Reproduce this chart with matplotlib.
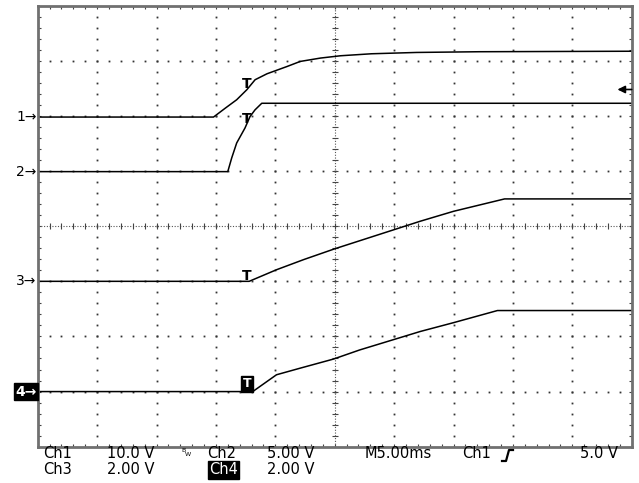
import numpy as np
import matplotlib.pyplot as plt
import matplotlib.transforms as mtransforms
from matplotlib.lines import Line2D

# Pantalla de osciloscopio: 10 div x 8 div, 5 ms/div
# tiempos en ms desde el borde izquierdo, tensiones en V
t_ch1 = [0, 14.8, 15.8, 16.75, 17.6, 18.3, 19.3, 21.0, 22.1, 23.8, 25.5, 28.1, 31.9, 37.2, 50]
v_ch1 = [0, 0, 1.63, 3.14, 4.95, 6.77, 7.85, 9.18, 10.09, 10.7, 11.12, 11.48, 11.72, 11.85, 11.94]

t_ch2 = [0, 16.0, 16.33, 16.75, 17.45, 17.87, 18.29, 18.86, 50]
v_ch2 = [0, 0, 1.24, 2.6, 3.96, 4.99, 5.6, 6.2, 6.2]

t_ch3 = [0, 17.8, 20.1, 22.4, 25.0, 32.2, 35.0, 39.3, 50]
v_ch3 = [0, 0, 0.42, 0.79, 1.18, 2.18, 2.54, 2.99, 2.99]

t_ch4 = [0, 18.1, 20.1, 22.1, 24.9, 27.1, 32.2, 35.0, 38.7, 50]
v_ch4 = [0, 0, 0.61, 0.85, 1.18, 1.51, 2.18, 2.5, 2.94, 2.94]

canales = ['1', '2', '3', '4']
volts_div = [10.0, 5.0, 2.0, 2.0]
offsets = [1.98, 0.99, -1.0, -3.0]   # posicion de tierra en divisiones
ms_div = 5.0
trig_t = 17.6
trig_level = 5.0

fig = plt.figure(figsize=(6.39, 4.83), dpi=100)
ax = fig.add_axes([37.7 / 639, 1 - 446.7 / 483, 594 / 639, 441 / 483])
ax.set_xlim(0, 10 * ms_div)
ax.set_ylim(-4, 4)
ax.set_xticks([])
ax.set_yticks([])
for s in ax.spines.values():
    s.set_color('#707070')
    s.set_linewidth(2)

# grilla punteada
minor_x = np.arange(0, 50.01, ms_div / 5)
minor_y = np.arange(-4, 4.01, 0.2)
dot = dict(ls='none', marker='s', ms=1.3, mew=0, color='#333333')
for gx in np.arange(ms_div, 50, ms_div):
    if gx == 25:
        continue
    ax.plot(np.full_like(minor_y, gx), minor_y, **dot)
for gy in range(-3, 4):
    if gy == 0:
        continue
    ax.plot(minor_x, np.full_like(minor_x, gy), **dot)

# ejes centrales con marcas
ax.axvline(25, ls=(0, (1, 1.5)), lw=0.8, color='#555555')
ax.axhline(0, ls=(0, (1, 1.5)), lw=0.8, color='#555555')
ax.plot(np.full_like(minor_y, 25), minor_y, ls='none', marker='_', ms=4.5, mew=0.8, color='#444444')
ax.plot(minor_x, np.zeros_like(minor_x), ls='none', marker='|', ms=4.5, mew=0.8, color='#444444')

# marcas en el borde
ax.plot(minor_x, np.full_like(minor_x, 4), ls='none', marker='|', ms=4, mew=0.8, color='#444444')
ax.plot(minor_x, np.full_like(minor_x, -4), ls='none', marker='|', ms=4, mew=0.8, color='#444444')
ax.plot(np.full_like(minor_y, 0), minor_y, ls='none', marker='_', ms=4, mew=0.8, color='#444444')
ax.plot(np.full_like(minor_y, 50), minor_y, ls='none', marker='_', ms=4, mew=0.8, color='#444444')

# trazas
datos = [(t_ch1, v_ch1), (t_ch2, v_ch2), (t_ch3, v_ch3), (t_ch4, v_ch4)]
blend = mtransforms.blended_transform_factory(ax.transAxes, ax.transData)
for i, (t, v) in enumerate(datos):
    y = offsets[i] + np.array(v) / volts_div[i]
    ax.plot(t, y, color='black', lw=1.1, solid_joinstyle='round')

    # marca de disparo "T"
    yt = offsets[i] + np.interp(trig_t, t, v) / volts_div[i]
    if i == 3:
        ax.text(trig_t, yt + 0.02, 'T', ha='center', va='bottom', fontsize=9,
                fontweight='bold', color='white',
                bbox=dict(boxstyle='square,pad=0.15', fc='black', ec='black'))
    else:
        ax.text(trig_t, yt - 0.03, 'T', ha='center', va='bottom', fontsize=10,
                fontweight='bold', color='black')

    # indicador de tierra a la izquierda
    if i == 3:
        ax.text(-0.002, offsets[i], canales[i] + '\u2192', transform=blend, ha='right',
                va='center', fontsize=10, color='white', fontweight='bold', clip_on=False,
                bbox=dict(boxstyle='square,pad=0.1', fc='black', ec='black'))
    else:
        ax.text(-0.002, offsets[i], canales[i] + '\u2192', transform=blend, ha='right',
                va='center', fontsize=10, color='black', clip_on=False)

# nivel de disparo (flecha a la derecha)
y_trig = offsets[0] + trig_level / volts_div[0]
ax.annotate('', xy=(48.8, y_trig), xytext=(50, y_trig), annotation_clip=False,
            arrowprops=dict(arrowstyle='-|>', color='black', lw=1.2, mutation_scale=11,
                            shrinkA=0, shrinkB=0))

# textos inferiores
def px(x, y):
    return x / 639, 1 - y / 483

fs = 10.5
fila1 = [(43, 'Ch1'), (107, '10.0 V'), (207, 'Ch2'), (267, '5.00 V'),
         (365, 'M5.00ms'), (462, 'Ch1'), (580, '5.0 V')]
fila2 = [(43, 'Ch3'), (107, '2.00 V'), (267, '2.00 V')]
for x, s in fila1:
    fig.text(*px(x, 454), s, fontsize=fs, va='center', ha='left')
for x, s in fila2:
    fig.text(*px(x, 470), s, fontsize=fs, va='center', ha='left')
fig.text(*px(209, 470), 'Ch4', fontsize=fs, va='center', ha='left', color='white',
         bbox=dict(boxstyle='square,pad=0.1', fc='black', ec='black'))
fig.text(*px(181, 450), 'B', fontsize=4.5, va='center', ha='left')
fig.text(*px(185, 455), 'W', fontsize=4.5, va='center', ha='left')

# simbolo de flanco ascendente
xs = [502, 506, 509, 513]
ys = [461, 461, 450, 450]
fig.add_artist(Line2D([x / 639 for x in xs], [1 - y / 483 for y in ys],
                      color='black', lw=1.6, transform=fig.transFigure))

fig.savefig('out.png', dpi=100)
